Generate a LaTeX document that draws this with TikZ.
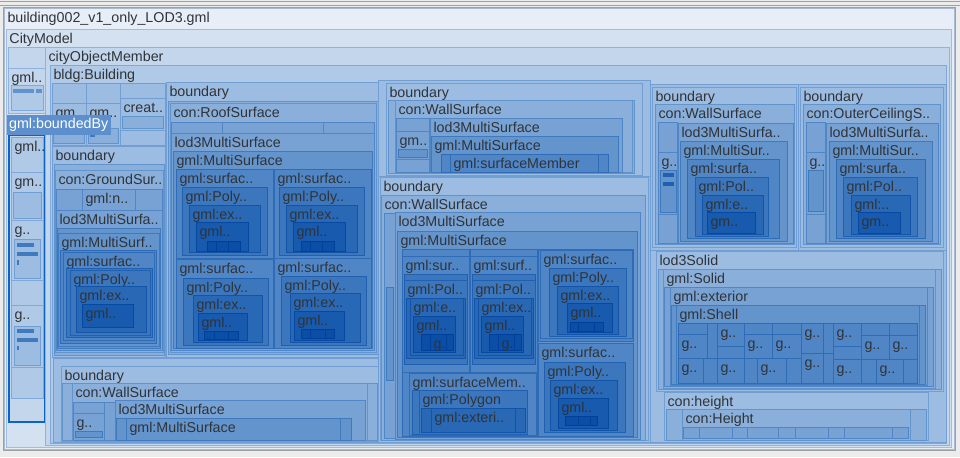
\documentclass[tikz,border=0pt]{standalone}
\usepackage{fontspec}
\setmainfont{Liberation Sans}
\usepackage{tikz}

% fills and border lines per nesting depth
\definecolor{lv0}{HTML}{E8EEF7}  \definecolor{ln0}{HTML}{A9B9CF}
\definecolor{lv1}{HTML}{D4E1F1}  \definecolor{ln1}{HTML}{9FBDE2}
\definecolor{lv2}{HTML}{C3D6EC}  \definecolor{ln2}{HTML}{8FB3DE}
\definecolor{lv3}{HTML}{AFC9E7}  \definecolor{ln3}{HTML}{80A9D9}
\definecolor{lv4}{HTML}{9CBCE1}  \definecolor{ln4}{HTML}{729FD3}
\definecolor{lv5}{HTML}{89AFDA}  \definecolor{ln5}{HTML}{6193CC}
\definecolor{lv6}{HTML}{77A2D3}  \definecolor{ln6}{HTML}{5086C5}
\definecolor{lv7}{HTML}{6494CC}  \definecolor{ln7}{HTML}{3F79BE}
\definecolor{lv8}{HTML}{5086C5}  \definecolor{ln8}{HTML}{2E6CB8}
\definecolor{lv9}{HTML}{3C77BD}  \definecolor{ln9}{HTML}{1F60B1}
\definecolor{lv10}{HTML}{2968B5} \definecolor{ln10}{HTML}{1254AA}
\definecolor{lv11}{HTML}{185AAD} \definecolor{ln11}{HTML}{0649A2}
\definecolor{lv12}{HTML}{0A4EA6} \definecolor{ln12}{HTML}{00409A}
\definecolor{winbg}{HTML}{ECECEC}
\definecolor{winline}{HTML}{A0A0A0}
\definecolor{labeltext}{HTML}{303338}
\definecolor{selblue}{HTML}{0A64C8}
\definecolor{tipfill}{HTML}{5C8FCC}

\tikzset{
tm/.style={
    fill=lv#1,
    draw=ln#1
},
tmlabel/.style={
    anchor=base west,
    inner sep=0pt,
    text=labeltext,
    font=\fontsize{10.7}{12}\selectfont
},
tip/.style={
    anchor=north west,
    fill=tipfill,
    text=white,
    inner xsep=2pt,
    inner ysep=0pt,
    minimum height=15pt,
    font=\fontsize{10.7}{12}\selectfont
}}

\newcount\tmno
% \tmbox{depth}{x1}{y1}{x2}{y2}{label}
\newcommand{\tmbox}[6]{%
  \draw[tm=#1] (#2,#3) rectangle (#4,#5);
  \if\relax\detokenize{#6}\relax\else
    \global\advance\tmno by 1
    \node[tmlabel] (lbl\the\tmno) at (#2+3,#3+14) {#6};
  \fi}

\begin{document}
\begin{tikzpicture}[x=0.75pt, y=-0.75pt, line width=0.75pt]
    \useasboundingbox (0,0) rectangle (960,457);
    \fill[winbg] (0,0) rectangle (960,457);
    \draw[winline] (0,1) -- (960,1);
    \draw[winline] (0,5) -- (960,5);
    \draw[winline] (3,7) rectangle (955,450);

    % file and model
    \tmbox{0}{4}{8}{954}{449}{building002\_v1\_only\_LOD3.gml}
    \tmbox{1}{6}{29}{951}{447}{CityModel}

    % left column
    \tmbox{2}{8}{47}{45}{68}{}
    \tmbox{2}{8}{68}{45}{113}{gml..}
    \tmbox{3}{11}{85}{43}{110}{}
    \fill[ln5] (13,89) rectangle (34,93);
    \fill[ln5] (36,89) rectangle (42,93);
    \tmbox{2}{9}{135}{45}{422}{}
    \tmbox{3}{11}{137}{43}{172}{gml..}
    \tmbox{3}{11}{172}{43}{220}{gm..}
    \tmbox{4}{13}{192}{41}{218}{}
    \tmbox{3}{11}{220}{43}{280}{g..}
    \tmbox{4}{14}{239}{40}{278}{}
    \fill[ln7] (17,243) rectangle (34,247);
    \fill[ln7] (17,252) rectangle (38,256);
    \fill[ln7] (17,260) rectangle (19,265);
    \tmbox{3}{11}{280}{43}{305}{}
    \tmbox{3}{11}{305}{43}{367}{g..}
    \tmbox{4}{14}{326}{40}{365}{}
    \fill[ln7] (17,329) rectangle (34,333);
    \fill[ln7] (17,338) rectangle (38,342);
    \fill[ln7] (17,346) rectangle (19,350);
    \tmbox{3}{11}{367}{43}{398}{}
    \draw[selblue, line width=1.5pt] (9,135) rectangle (45,422);

    % building
    \tmbox{2}{45}{47}{949}{445}{cityObjectMember}
    \tmbox{3}{50}{65}{946}{443}{bldg:Building}

    % small top-left members
    \tmbox{4}{52}{83}{86}{103}{}
    \tmbox{4}{52}{103}{86}{145}{gm..}
    \tmbox{5}{53}{128}{84}{143}{}
    \tmbox{4}{86}{83}{120}{103}{}
    \tmbox{4}{86}{103}{120}{145}{gm..}
    \tmbox{5}{88}{128}{118}{143}{}
    \fill[ln7] (90,133) rectangle (95,137);
    \tmbox{4}{120}{83}{165}{98}{}
    \tmbox{4}{120}{98}{165}{130}{creat..}
    \tmbox{5}{122}{116}{163}{128}{}
    \tmbox{4}{120}{130}{165}{145}{}

    % ground surface
    \tmbox{4}{52}{146}{165}{357}{boundary}
    \tmbox{5}{54}{164}{164}{355}{}
    \tmbox{5}{55}{170}{163}{352}{con:GroundSur..}
    \tmbox{6}{56}{189}{82}{210}{}
    \tmbox{6}{82}{189}{135}{210}{gml:n..}
    \tmbox{6}{135}{189}{162}{210}{}
    \tmbox{6}{56}{210}{162}{350}{lod3MultiSurfa..}
    \tmbox{7}{57}{228}{160}{348}{}
    \tmbox{7}{58}{233}{159}{346}{gml:MultiSurf..}
    \tmbox{8}{60}{250}{156}{343}{}
    \tmbox{8}{63}{252}{154}{340}{gml:surfac..}
    \tmbox{9}{66}{268}{152}{337}{}
    \tmbox{9}{70}{270}{150}{335}{gml:Poly..}
    \tmbox{10}{76}{286}{146}{332}{gml:ex..}
    \tmbox{11}{82}{304}{133}{327}{gml..}

    % roof surface
    \tmbox{4}{166}{82}{382}{357}{boundary}
    \tmbox{5}{168}{101}{378}{354}{}
    \tmbox{5}{170}{103}{376}{352}{con:RoofSurface}
    \tmbox{6}{171}{122}{222}{133}{}
    \tmbox{6}{222}{122}{323}{133}{}
    \tmbox{6}{323}{122}{374}{133}{}
    \tmbox{6}{171}{133}{374}{350}{lod3MultiSurface}
    \tmbox{7}{173}{151}{372}{348}{gml:MultiSurface}
    \tmbox{8}{176}{169}{273}{258}{gml:surfac..}
    \tmbox{9}{182}{187}{267}{255}{gml:Poly..}
    \tmbox{10}{189}{205}{260}{252}{gml:ex..}
    \tmbox{11}{196}{222}{248}{251}{gml..}
    \tmbox{12}{207}{241}{216}{251}{}
    \tmbox{12}{216}{241}{228}{251}{}
    \tmbox{12}{228}{241}{240}{251}{}
    \tmbox{8}{274}{169}{371}{258}{gml:surfac..}
    \tmbox{9}{279}{187}{364}{255}{gml:Poly..}
    \tmbox{10}{286}{205}{357}{252}{gml:ex..}
    \tmbox{11}{293}{222}{345}{251}{gml..}
    \tmbox{12}{301}{241}{310}{251}{}
    \tmbox{12}{310}{241}{322}{251}{}
    \tmbox{12}{322}{241}{334}{251}{}
    \tmbox{8}{176}{259}{273}{348}{gml:surfac..}
    \tmbox{9}{183}{278}{268}{345}{gml:Poly..}
    \tmbox{10}{193}{295}{262}{342}{gml:ex..}
    \tmbox{11}{198}{313}{247}{340}{gml..}
    \tmbox{12}{204}{331}{214}{339}{}
    \tmbox{12}{214}{331}{228}{339}{}
    \tmbox{12}{228}{331}{238}{339}{}
    \tmbox{8}{274}{258}{371}{348}{gml:surfac..}
    \tmbox{9}{281}{276}{366}{345}{gml:Poly..}
    \tmbox{10}{290}{293}{360}{342}{gml:ex..}
    \tmbox{11}{294}{311}{344}{340}{gml..}
    \tmbox{12}{301}{329}{310}{338}{}
    \tmbox{12}{310}{329}{325}{338}{}
    \tmbox{12}{325}{329}{334}{338}{}

    % wall surface, bottom left
    \tmbox{4}{53}{358}{382}{442}{}
    \tmbox{4}{61}{366}{380}{441}{boundary}
    \tmbox{5}{62}{383}{377}{440}{}
    \tmbox{5}{72}{383}{367}{440}{con:WallSurface}
    \tmbox{6}{73}{402}{104}{413}{}
    \tmbox{6}{73}{413}{104}{440}{g..}
    \tmbox{7}{75}{431}{102}{437}{}
    \tmbox{6}{104}{402}{115}{440}{}
    \tmbox{6}{115}{400}{365}{440}{lod3MultiSurface}
    \tmbox{7}{116}{418}{351}{440}{}
    \tmbox{7}{126}{418}{340}{440}{gml:MultiSurface}

    % wall surface, top middle
    \tmbox{4}{378}{80}{650}{176}{}
    \tmbox{4}{386}{83}{642}{175}{boundary}
    \tmbox{5}{388}{100}{634}{173}{}
    \tmbox{5}{395}{100}{632}{172}{con:WallSurface}
    \tmbox{6}{396}{118}{429}{131}{}
    \tmbox{6}{396}{131}{429}{159}{gm..}
    \tmbox{7}{398}{149}{427}{157}{}
    \tmbox{6}{396}{159}{429}{172}{}
    \tmbox{6}{430}{118}{622}{172}{lod3MultiSurface}
    \tmbox{7}{431}{136}{618}{172}{gml:MultiSurface}
    \tmbox{8}{441}{154}{608}{172}{}
    \tmbox{8}{450}{154}{598}{172}{gml:surfaceMember}

    % wall surface, big middle
    \tmbox{4}{378}{176}{650}{442}{}
    \tmbox{4}{380}{177}{648}{440}{boundary}
    \tmbox{5}{381}{195}{645}{440}{con:WallSurface}
    \tmbox{6}{384}{213}{395}{438}{}
    \tmbox{7}{386}{287}{393}{380}{}
    \tmbox{6}{395}{212}{640}{439}{lod3MultiSurface}
    \tmbox{7}{397}{231}{637}{437}{gml:MultiSurface}
    % column A
    \tmbox{8}{402}{249}{469}{256}{}
    \tmbox{8}{402}{256}{469}{372}{gml:sur..}
    \tmbox{9}{404}{274}{467}{280}{}
    \tmbox{9}{404}{280}{467}{364}{gml:Pol..}
    \tmbox{10}{406}{298}{465}{358}{}
    \tmbox{10}{410}{298}{463}{355}{gml:e..}
    \tmbox{11}{413}{316}{455}{352}{gml..}
    \tmbox{12}{421}{334}{430}{350}{}
    \tmbox{12}{430}{334}{446}{350}{g..}
    \tmbox{12}{446}{334}{453}{350}{}
    % column B
    \tmbox{8}{470}{249}{537}{256}{}
    \tmbox{8}{470}{256}{537}{372}{gml:surf..}
    \tmbox{9}{472}{274}{535}{280}{}
    \tmbox{9}{472}{280}{535}{364}{gml:Pol..}
    \tmbox{10}{474}{298}{533}{358}{}
    \tmbox{10}{478}{298}{531}{355}{gml:ex..}
    \tmbox{11}{481}{316}{523}{352}{gml..}
    \tmbox{12}{489}{334}{498}{350}{}
    \tmbox{12}{498}{334}{514}{350}{g..}
    \tmbox{12}{514}{334}{521}{350}{}
    % column C
    \tmbox{8}{538}{249}{633}{341}{}
    \tmbox{8}{540}{250}{632}{338}{gml:surfac..}
    \tmbox{9}{549}{268}{626}{336}{gml:Poly..}
    \tmbox{10}{557}{286}{618}{334}{gml:ex..}
    \tmbox{11}{567}{303}{612}{332}{gml..}
    \tmbox{12}{570}{322}{578}{331}{}
    \tmbox{12}{578}{322}{594}{331}{}
    \tmbox{12}{594}{322}{603}{331}{}
    % column D
    \tmbox{8}{538}{343}{633}{436}{gml:surfac..}
    \tmbox{9}{544}{362}{625}{432}{gml:Poly..}
    \tmbox{10}{550}{380}{617}{430}{gml:ex..}
    \tmbox{11}{558}{398}{608}{428}{gml..}
    \tmbox{12}{565}{416}{578}{425}{}
    \tmbox{12}{578}{416}{590}{425}{}
    \tmbox{12}{590}{416}{597}{425}{}
    % column E
    \tmbox{8}{402}{372}{537}{436}{}
    \tmbox{8}{409}{373}{536}{435}{gml:surfaceMem..}
    \tmbox{9}{412}{390}{527}{434}{}
    \tmbox{9}{419}{390}{527}{434}{gml:Polygon}
    \tmbox{10}{421}{408}{525}{432}{}
    \tmbox{10}{431}{408}{515}{432}{gml:exteri..}

    % wall surface, right
    \tmbox{4}{650}{84}{798}{250}{}
    \tmbox{4}{652}{87}{796}{247}{boundary}
    \tmbox{5}{655}{104}{794}{244}{con:WallSurface}
    \tmbox{6}{658}{122}{677}{152}{}
    \tmbox{6}{658}{152}{677}{214}{g..}
    \tmbox{7}{660}{170}{676}{212}{}
    \fill[ln9] (663,173) rectangle (674,177);
    \fill[ln9] (663,182) rectangle (674,186);
    \tmbox{6}{658}{214}{677}{243}{}
    \tmbox{6}{678}{123}{793}{243}{lod3MultiSurfa..}
    \tmbox{7}{680}{141}{787}{241}{gml:MultiSur..}
    \tmbox{8}{687}{159}{779}{238}{gml:surfa..}
    \tmbox{9}{695}{177}{768}{236}{gml:Pol..}
    \tmbox{10}{702}{195}{763}{234}{gml:e..}
    \tmbox{11}{707}{212}{755}{233}{gm..}

    % outer ceiling surface
    \tmbox{4}{798}{84}{946}{250}{}
    \tmbox{4}{800}{87}{943}{247}{boundary}
    \tmbox{5}{803}{104}{940}{244}{con:OuterCeilingS..}
    \tmbox{6}{806}{122}{825}{152}{}
    \tmbox{6}{806}{152}{825}{214}{g..}
    \tmbox{7}{808}{170}{823}{211}{}
    \tmbox{6}{806}{214}{825}{243}{}
    \tmbox{6}{826}{123}{938}{243}{lod3MultiSurfa..}
    \tmbox{7}{829}{141}{932}{241}{gml:MultiSur..}
    \tmbox{8}{836}{159}{925}{238}{gml:surfa..}
    \tmbox{9}{843}{177}{917}{236}{gml:Pol..}
    \tmbox{10}{851}{195}{910}{234}{gml:..}
    \tmbox{11}{858}{212}{900}{233}{gm..}

    % solid
    \tmbox{4}{650}{250}{946}{442}{}
    \tmbox{4}{656}{251}{943}{391}{lod3Solid}
    \tmbox{5}{658}{269}{941}{389}{}
    \tmbox{5}{663}{269}{935}{388}{gml:Solid}
    \tmbox{6}{664}{287}{933}{386}{}
    \tmbox{6}{670}{287}{927}{385}{gml:exterior}
    \tmbox{7}{671}{305}{925}{384}{}
    \tmbox{7}{676}{305}{919}{384}{gml:Shell}
    \tmbox{8}{678}{323}{707}{334}{}
    \tmbox{8}{678}{334}{707}{358}{g..}
    \tmbox{8}{707}{323}{717}{358}{}
    \tmbox{8}{678}{358}{703}{383}{g..}
    \tmbox{8}{703}{358}{717}{383}{}
    \tmbox{8}{717}{323}{744}{346}{g..}
    \tmbox{8}{717}{346}{744}{358}{}
    \tmbox{8}{717}{358}{744}{383}{g..}
    \tmbox{8}{744}{323}{772}{334}{}
    \tmbox{8}{744}{334}{772}{358}{g..}
    \tmbox{8}{772}{323}{801}{334}{}
    \tmbox{8}{772}{334}{801}{358}{g..}
    \tmbox{8}{744}{358}{757}{383}{}
    \tmbox{8}{757}{358}{786}{383}{g..}
    \tmbox{8}{786}{358}{801}{383}{}
    \tmbox{8}{801}{323}{823}{353}{g..}
    \tmbox{8}{801}{353}{823}{383}{g..}
    \tmbox{8}{823}{323}{833}{353}{}
    \tmbox{8}{823}{353}{833}{383}{}
    \tmbox{8}{833}{323}{861}{346}{g..}
    \tmbox{8}{833}{346}{861}{359}{}
    \tmbox{8}{833}{359}{861}{383}{g..}
    \tmbox{8}{861}{323}{889}{335}{}
    \tmbox{8}{889}{323}{917}{335}{}
    \tmbox{8}{861}{335}{889}{359}{g..}
    \tmbox{8}{889}{335}{917}{359}{g..}
    \tmbox{8}{861}{359}{876}{383}{}
    \tmbox{8}{876}{359}{903}{383}{g..}
    \tmbox{8}{903}{359}{917}{383}{}

    % height
    \tmbox{4}{664}{392}{928}{440}{con:height}
    \tmbox{5}{666}{409}{926}{440}{}
    \tmbox{5}{682}{409}{910}{440}{con:Height}
    \draw[tm=6] (683,427) rectangle (908,438);
    \foreach \xc in {699,732,747,778,795,828,844,892}
        \draw[ln6] (\xc,427) -- (\xc,438);

    % hover label
    \node[tip] (tip) at (6,114) {gml:boundedBy};
\end{tikzpicture}
\end{document}
